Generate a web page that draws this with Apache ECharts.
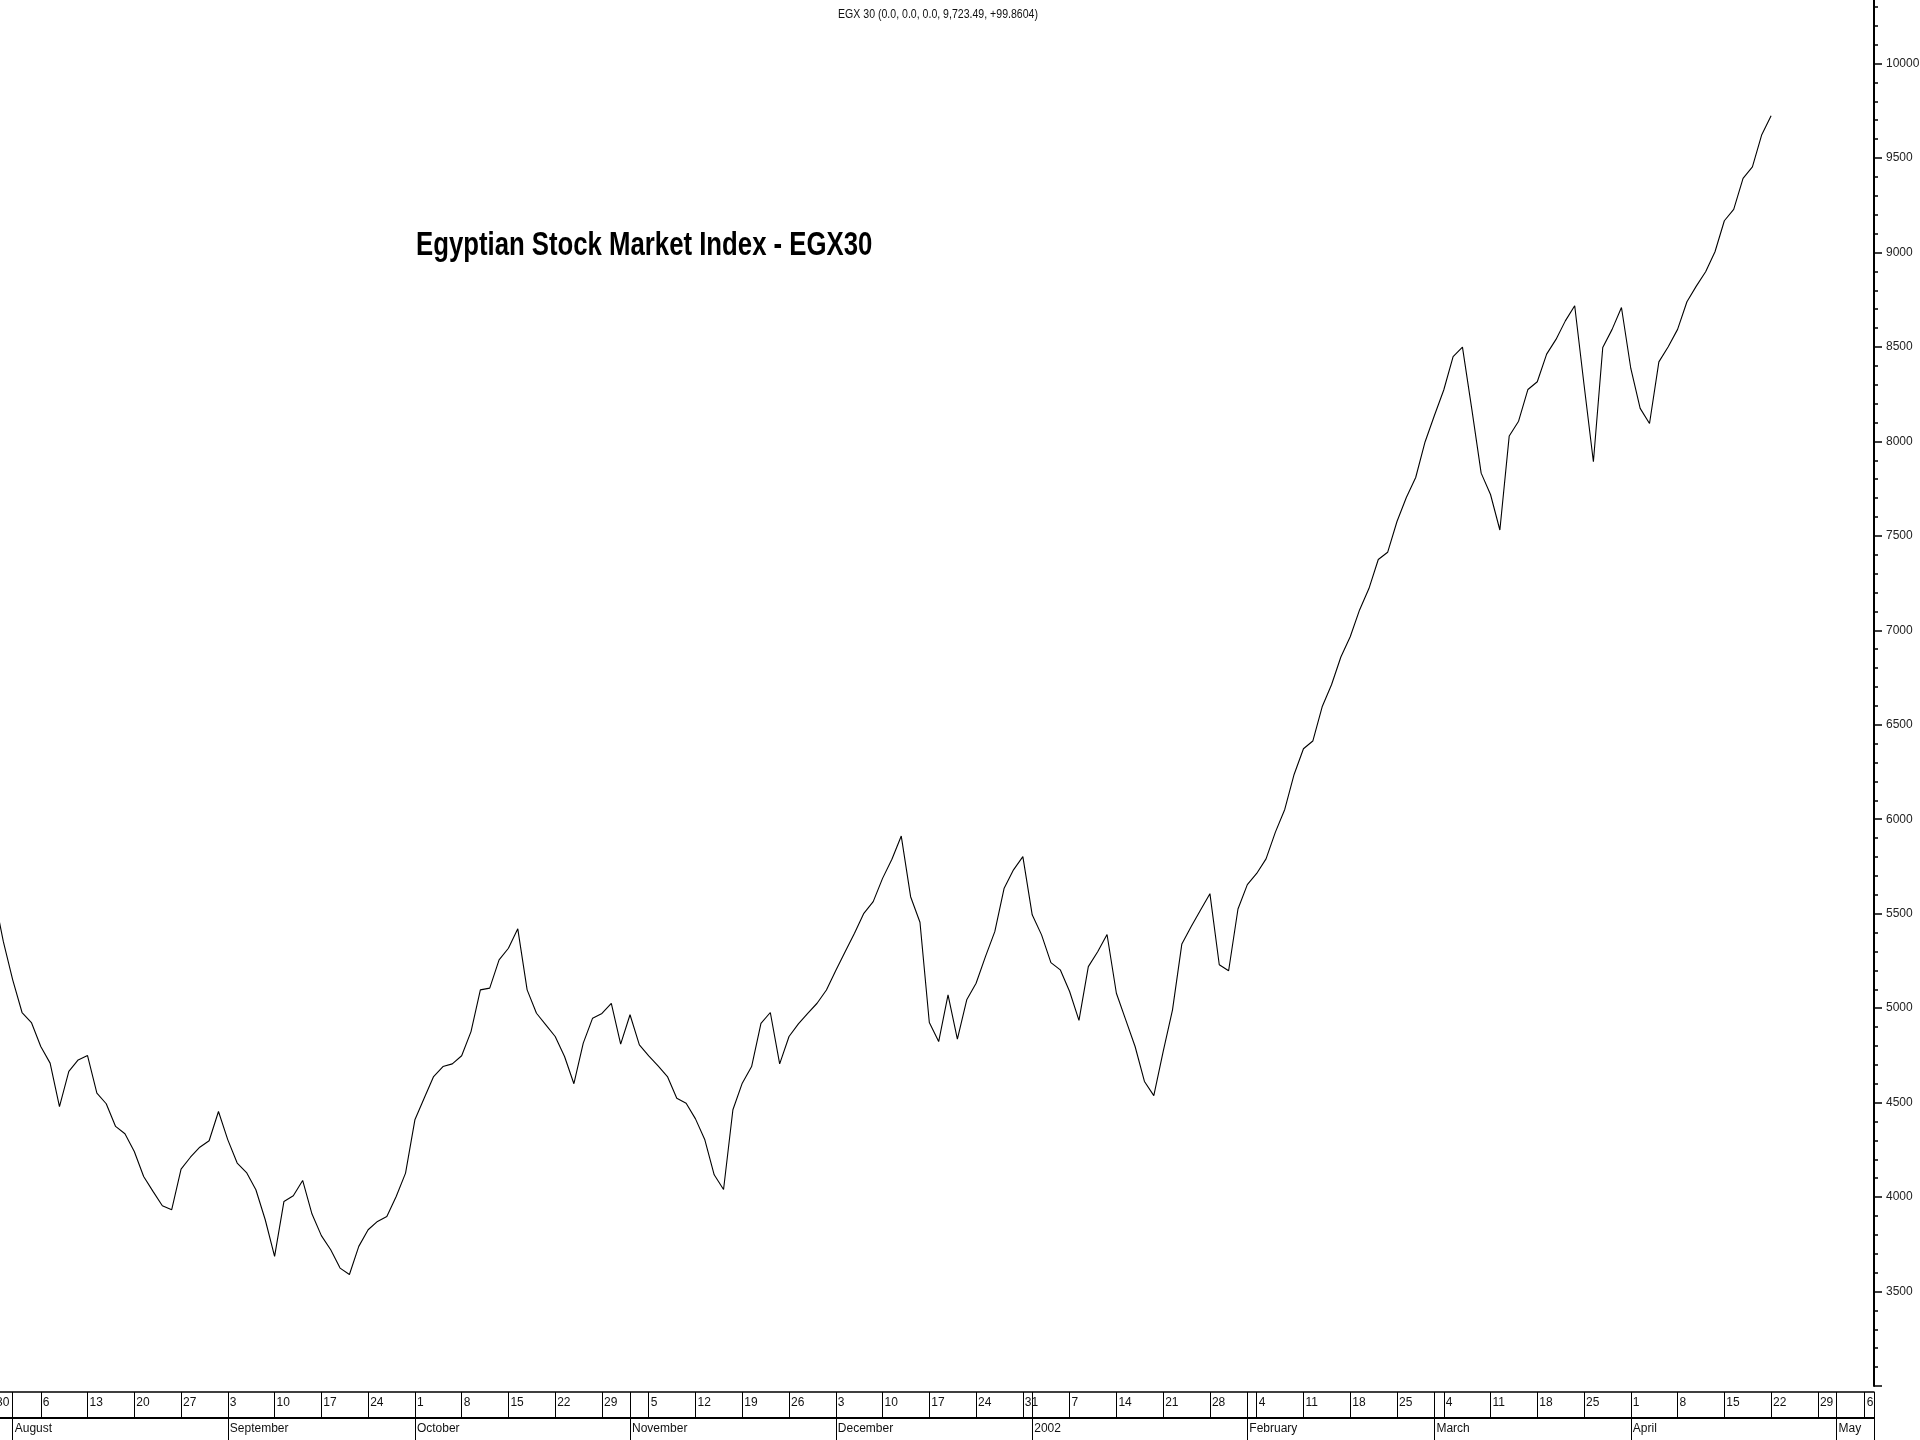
<!DOCTYPE html>
<html>
<head>
<meta charset="utf-8">
<title>EGX30</title>
<script src="https://cdn.jsdelivr.net/npm/echarts@6/dist/echarts.min.js"></script>
<style>
  html, body { margin: 0; padding: 0; background: #fff; }
  #main { width: 1920px; height: 1440px; }
</style>
</head>
<body>
<div id="main"></div>
<script>
// daily closes from 30 Jul 2001 to 22 Apr 2002
const closeValues = [
  5600, 5352, 5150, 4977, 4924, 4797, 4709, 4479, 4665, 4726,
  4749, 4550, 4494, 4374, 4335, 4241, 4109, 4030, 3954, 3933,
  4148, 4211, 4264, 4298, 4453, 4303, 4180, 4130, 4039, 3880,
  3686, 3977, 4007, 4088, 3910, 3796, 3721, 3624, 3590, 3739,
  3827, 3871, 3897, 4003, 4127, 4409, 4524, 4638, 4691, 4705,
  4748, 4876, 5097, 5106, 5256, 5317, 5420, 5097, 4973, 4912,
  4850, 4744, 4600, 4815, 4947, 4972, 5025, 4810, 4965, 4806,
  4747, 4694, 4638, 4523, 4497, 4414, 4303, 4118, 4040, 4462,
  4603, 4691, 4920, 4977, 4705, 4850, 4917, 4973, 5026, 5096,
  5199, 5299, 5396, 5502, 5564, 5687, 5788, 5911, 5590, 5455,
  4924, 4823, 5070, 4836, 5044, 5132, 5273, 5405, 5635, 5732,
  5802, 5494, 5388, 5241, 5203, 5088, 4935, 5220, 5299, 5390,
  5079, 4938, 4797, 4612, 4537, 4770, 4991, 5340, 5432, 5520,
  5606, 5230, 5198, 5525, 5654, 5713, 5790, 5932, 6052, 6237,
  6373, 6414, 6595, 6712, 6859, 6966, 7108, 7221, 7375, 7413,
  7576, 7703, 7809, 7997, 8137, 8272, 8449, 8499, 8171, 7832,
  7719, 7531, 8029, 8107, 8275, 8316, 8462, 8540, 8638, 8718,
  8300, 7892, 8497, 8593, 8709, 8386, 8175, 8095, 8421, 8501,
  8593, 8739, 8822, 8898, 9004, 9168, 9228, 9392, 9453, 9623.63,
  9723.49
];
const firstDay = '2001-07-30';
const lastDay = '2002-05-07';
// january shows the year instead of the month name
const monthNames = ['2002', 'February', 'March', 'April', 'May', 'June',
  'July', 'August', 'September', 'October', 'November', 'December'];
const chartTitle = 'Egyptian Stock Market Index - EGX30';
const headerText = 'EGX 30 (0.0, 0.0, 0.0, 9,723.49, +99.8604)';

const font = '"Liberation Sans", Arial, sans-serif';

// trading days, monday to friday
function tradingDays(from, to) {
  const out = [];
  const d = new Date(from + 'T00:00:00Z');
  const end = new Date(to + 'T00:00:00Z');
  while (d <= end) {
    const wd = d.getUTCDay();
    if (wd !== 0 && wd !== 6) out.push(d.toISOString().slice(0, 10));
    d.setUTCDate(d.getUTCDate() + 1);
  }
  return out;
}

const days = tradingDays(firstDay, lastDay);

function isMonday(s) {
  return new Date(s + 'T00:00:00Z').getUTCDay() === 1;
}
function isMonthStart(idx) {
  return idx > 0 && days[idx].slice(5, 7) !== days[idx - 1].slice(5, 7);
}

const chart = echarts.init(document.getElementById('main'));

const option = {
  backgroundColor: '#fff',
  animation: false,
  // narrow lettering like the original, squeezed horizontally
  graphic: [
    {
      type: 'text',
      x: 938,
      y: 15,
      scaleX: 0.88,
      style: {
        text: headerText,
        fontFamily: font,
        fontSize: 12,
        fill: '#111',
        align: 'center',
        verticalAlign: 'middle'
      }
    },
    {
      type: 'text',
      x: 416,
      y: 246,
      scaleX: 0.78,
      style: {
        text: chartTitle,
        fontFamily: font,
        fontSize: 33,
        fontWeight: 'bold',
        fill: '#000',
        align: 'left',
        verticalAlign: 'middle'
      }
    }
  ],
  grid: {
    left: -6,
    right: 46,
    top: -12,
    bottom: 54,
    containLabel: false,
    outerBoundsMode: 'none'
  },
  xAxis: [
    {
      // week row
      type: 'category',
      data: days,
      boundaryGap: false,
      position: 'bottom',
      offset: 6,
      axisLine: { show: true, lineStyle: { color: '#000', width: 1.5 } },
      axisTick: {
        show: true,
        length: 26,
        interval: (i, v) => isMonday(v),
        lineStyle: { color: '#000', width: 1 }
      },
      axisLabel: {
        show: true,
        interval: (i, v) => isMonday(v),
        formatter: (v) => String(Number(v.slice(8, 10))),
        align: 'left',
        padding: [0, 0, 0, 2],
        margin: 5,
        fontFamily: font,
        fontSize: 12,
        color: '#111'
      },
      splitLine: { show: false }
    },
    {
      // month boundaries through both rows
      type: 'category',
      data: days,
      boundaryGap: false,
      position: 'bottom',
      offset: 6,
      axisLine: { show: false },
      axisTick: {
        show: true,
        length: 50,
        interval: (i) => isMonthStart(i) || i === days.length - 1,
        lineStyle: { color: '#000', width: 1 }
      },
      axisLabel: { show: false },
      splitLine: { show: false }
    },
    {
      // month row
      type: 'category',
      data: days,
      boundaryGap: false,
      position: 'bottom',
      offset: 32,
      axisLine: { show: true, lineStyle: { color: '#000', width: 2 } },
      axisTick: { show: false },
      axisLabel: {
        show: true,
        interval: (i) => isMonthStart(i),
        formatter: (v) => monthNames[Number(v.slice(5, 7)) - 1],
        align: 'left',
        padding: [0, 0, 0, 2],
        margin: 5,
        fontFamily: font,
        fontSize: 12,
        color: '#111'
      },
      splitLine: { show: false }
    }
  ],
  yAxis: {
    type: 'value',
    position: 'right',
    min: 3000,
    max: 10400,
    interval: 500,
    axisLine: { show: true, lineStyle: { color: '#000', width: 2 } },
    axisTick: { show: true, length: 8, lineStyle: { color: '#000', width: 1.5 } },
    minorTick: { show: true, splitNumber: 5, length: 4, lineStyle: { color: '#000', width: 1.5 } },
    splitLine: { show: false },
    axisLabel: {
      showMinLabel: false,
      showMaxLabel: false,
      margin: 12,
      formatter: (v) => String(v),
      fontFamily: font,
      fontSize: 12,
      color: '#222'
    }
  },
  series: [
    {
      name: 'EGX 30',
      type: 'line',
      data: closeValues,
      showSymbol: false,
      lineStyle: { color: '#000', width: 1.1 },
      clip: true
    }
  ]
};

chart.setOption(option);
</script>
</body>
</html>
